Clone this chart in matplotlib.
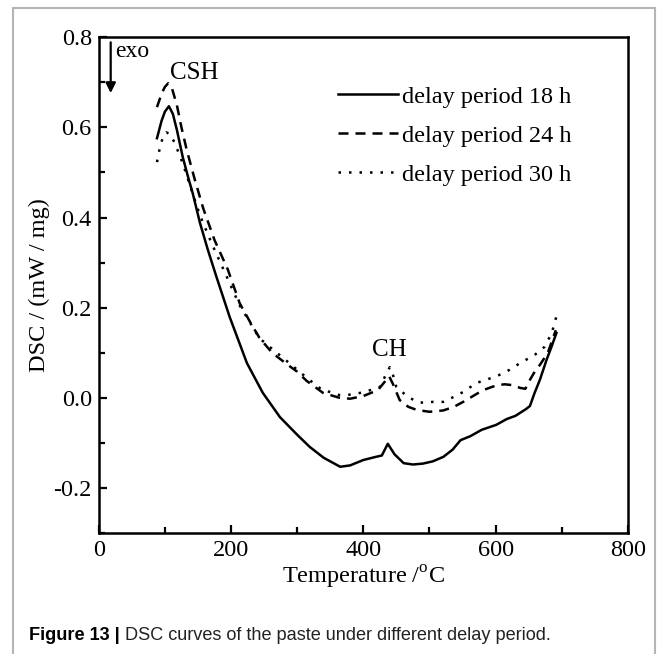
import matplotlib
matplotlib.use("Agg")
import matplotlib.pyplot as plt
from matplotlib.patches import Rectangle
from matplotlib.ticker import MultipleLocator

# DSC curves (temperature in degC, DSC in mW/mg)
temp_18 = [88, 95, 100, 106, 112, 118, 127, 135, 142, 153, 165, 178, 198, 224, 248, 274,
           300, 319, 340, 365, 380, 400, 419, 428, 437, 447, 461, 475, 490, 505, 521, 535,
           547, 562, 579, 601, 617, 630, 646, 652, 659, 667, 677, 685, 692]
dsc_18 = [0.576, 0.615, 0.635, 0.647, 0.63, 0.595, 0.534, 0.49, 0.454, 0.388, 0.328, 0.268,
          0.179, 0.077, 0.011, -0.043, -0.082, -0.109, -0.133, -0.153, -0.15, -0.138, -0.131,
          -0.128, -0.102, -0.125, -0.145, -0.148, -0.146, -0.141, -0.131, -0.115, -0.094,
          -0.085, -0.071, -0.06, -0.047, -0.04, -0.025, -0.018, 0.011, 0.04, 0.084, 0.115, 0.144]

temp_24 = [88, 95, 100, 105, 110, 118, 125, 133, 145, 158, 175, 195, 213, 230, 243, 262,
           284, 300, 314, 339, 364, 380, 400, 422, 432, 439, 445, 455, 468, 481, 500, 521,
           537, 551, 566, 581, 602, 614, 626, 637, 645, 652, 660, 667, 679, 691]
dsc_24 = [0.645, 0.675, 0.69, 0.698, 0.69, 0.65, 0.6, 0.55, 0.485, 0.42, 0.35, 0.285,
          0.21, 0.165, 0.133, 0.1, 0.075, 0.058, 0.038, 0.011, -0.0, -0.002, 0.004, 0.017,
          0.035, 0.048, 0.03, -0.005, -0.02, -0.027, -0.031, -0.028, -0.02, -0.009, 0.004,
          0.017, 0.028, 0.03, 0.028, 0.022, 0.02, 0.04, 0.06, 0.073, 0.10, 0.15]

temp_30 = [88, 93, 98, 102, 108, 115, 127, 140, 153, 170, 190, 213, 243, 284, 314, 339,
           345, 364, 375, 400, 425, 432, 440, 445, 450, 455, 468, 481, 491, 505, 521, 541,
           551, 571, 586, 606, 621, 637, 659, 674, 685, 692]
dsc_30 = [0.523, 0.56, 0.582, 0.589, 0.585, 0.565, 0.52, 0.462, 0.405, 0.345, 0.28, 0.205,
          0.132, 0.082, 0.045, 0.016, 0.015, 0.006, 0.006, 0.012, 0.024, 0.045, 0.068, 0.05,
          0.024, 0.017, 0.002, -0.009, -0.011, -0.009, -0.009, 0.005, 0.013, 0.033, 0.04,
          0.051, 0.062, 0.077, 0.095, 0.113, 0.144, 0.181]

labels = ["delay period 18 h", "delay period 24 h", "delay period 30 h"]

plt.rcParams["font.family"] = "Liberation Serif"
plt.rcParams["mathtext.fontset"] = "custom"
plt.rcParams["mathtext.rm"] = "Liberation Serif"
plt.rcParams["axes.unicode_minus"] = False

fig = plt.figure(figsize=(6.63, 6.54), dpi=100)
ax = fig.add_axes([0.149, 0.185, 0.798, 0.758])

lw = 1.8
ax.plot(temp_18, dsc_18, color="black", lw=lw, label=labels[0])
ax.plot(temp_24, dsc_24, color="black", lw=lw, ls=(0, (4, 2.8)), label=labels[1])
ax.plot(temp_30, dsc_30, color="black", lw=lw, ls=(0, (1, 3.2)), label=labels[2])

ax.set_xlim(0, 800)
ax.set_ylim(-0.3, 0.8)
ax.xaxis.set_major_locator(MultipleLocator(200))
ax.xaxis.set_minor_locator(MultipleLocator(100))
ax.yaxis.set_major_locator(MultipleLocator(0.2))
ax.yaxis.set_minor_locator(MultipleLocator(0.1))
ax.yaxis.set_major_formatter(plt.FuncFormatter(lambda v, p: f"{v:.1f}"))
ax.tick_params(which="major", direction="in", length=6, width=1.6, labelsize=17.5, pad=5)
ax.tick_params(which="minor", direction="in", length=4, width=1.6)
for s in ax.spines.values():
    s.set_linewidth(1.8)

ax.set_xlabel("Temperature /$^{\\rm o}$C", fontsize=17.5, labelpad=2)
ax.set_ylabel("DSC / (mW / mg)", fontsize=17.5, labelpad=2.5)

# annotations
ax.annotate("", xy=(18, 0.67), xytext=(18, 0.795),
            arrowprops=dict(arrowstyle="-|>", color="black", lw=1.6, mutation_scale=15))
ax.text(24, 0.768, "exo", fontsize=17, va="center", ha="left")
ax.text(144, 0.72, "CSH", fontsize=18, va="center", ha="center")
ax.text(439, 0.107, "CH", fontsize=18, va="center", ha="center")

ax.legend(loc="upper left", bbox_to_anchor=(0.452, 0.902), frameon=False, fontsize=17.5,
          handlelength=2.47, handletextpad=0.17, labelspacing=0.7, borderaxespad=0,
          borderpad=0)

# outer frame and caption
fig.patches.append(Rectangle((13 / 663, -0.02), 642 / 663, 1.008, transform=fig.transFigure,
                             fill=False, edgecolor="#b5b5b5", lw=1.5))
t1 = fig.text(29 / 663, 1 - 635 / 654, "Figure 13 |", fontsize=13.1, fontweight="bold",
              family="Liberation Sans", va="center", ha="left")
ax.annotate(" DSC curves of the paste under different delay period.", xy=(1, 0.5),
            xycoords=t1, va="center", ha="left", fontsize=13.1, family="Liberation Sans",
            color="#222222", annotation_clip=False)

fig.savefig("out.png", dpi=100)
